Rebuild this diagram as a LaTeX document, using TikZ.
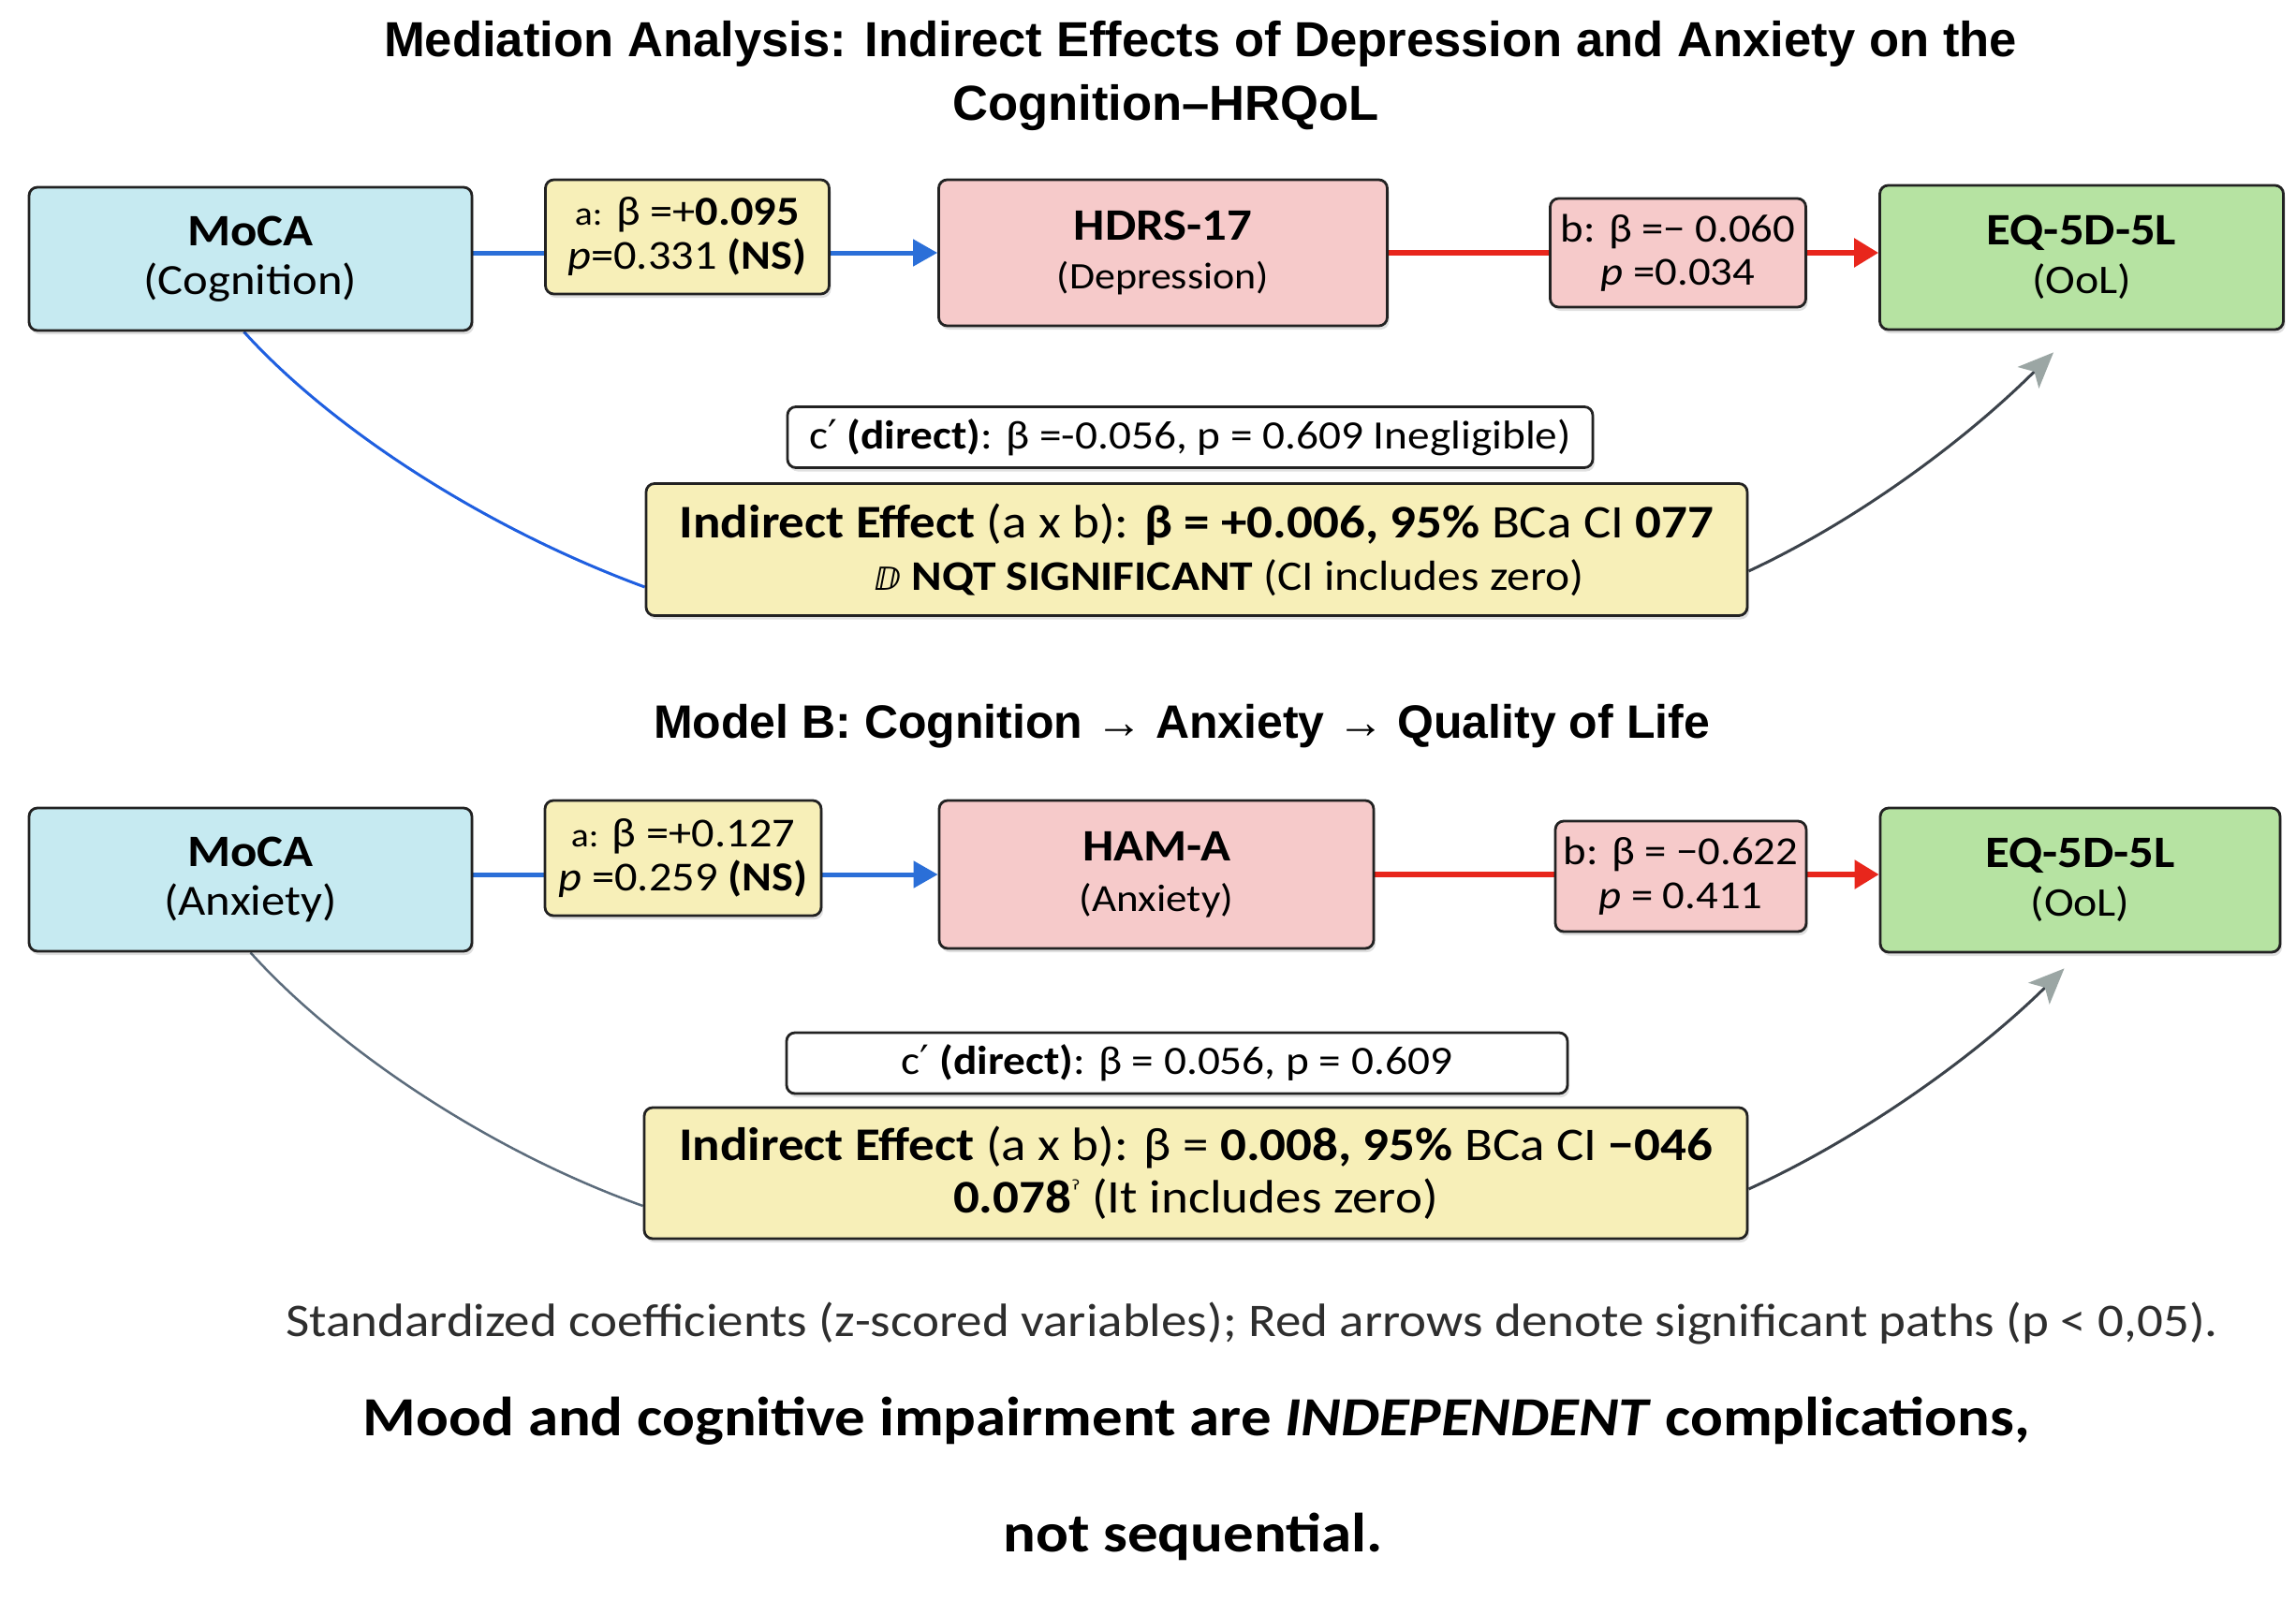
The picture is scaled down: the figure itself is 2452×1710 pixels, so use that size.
\documentclass[tikz,border=0pt]{standalone}
\usepackage{fontspec}
\setmainfont{Carlito}[FakeStretch=1.1]
\newfontfamily\titlefont{Liberation Sans}
\newfontfamily\symfont{DejaVu Sans}
\usetikzlibrary{arrows.meta,shadows,backgrounds,calc}
\definecolor{cyanfill}{HTML}{C6EAF1}
\definecolor{yelfill}{HTML}{F7EFB8}
\definecolor{pinkfill}{HTML}{F6CACA}
\definecolor{greenfill}{HTML}{B6E3A2}
\definecolor{boxline}{HTML}{222222}
\definecolor{bluearrow}{HTML}{2B6FD8}
\definecolor{redarrow}{HTML}{E8261C}
\definecolor{curveblue}{HTML}{1F5FE0}
\definecolor{curvegray}{HTML}{3C434B}
\definecolor{curvegraytwo}{HTML}{5C6C7C}
\definecolor{tipgray}{HTML}{9BA6A4}
\definecolor{foottext}{HTML}{2E2E2E}
\newcommand{\fsz}[2]{\fontsize{#1}{#2}\selectfont}
\newcommand{\primech}{{\symfont ′}}
\tikzset{
  box/.style={draw=boxline, line width=2.8pt, rounded corners=9pt, align=center,
    inner sep=0pt, drop shadow={shadow xshift=2pt, shadow yshift=-4pt, opacity=0.12, fill=black}},
  varbox/.style={box, font=\fsz{46}{52}},
  coefbox/.style={box, font=\fsz{44}{47}},
  cbox/.style={box, fill=white, font=\fsz{43}{46}},
  indbox/.style={box, fill=yelfill, font=\fsz{50}{56}},
  patha/.style={draw=bluearrow, line width=5pt, -{Triangle[length=26pt,width=28pt]}},
  pathb/.style={draw=redarrow, line width=5.5pt, -{Triangle[length=26pt,width=30pt]}},
  curvetoind/.style={line width=3pt},
  curvetoeq/.style={draw=curvegray, line width=3pt, -{Stealth[length=38pt,width=32pt,inset=9pt,color=tipgray]}},
  titletext/.style={font=\titlefont\bfseries\fsz{52.6}{60}, anchor=base},
  foot/.style={anchor=base}
}
\begin{document}
\begin{tikzpicture}[x=1pt,y=-1pt]
\useasboundingbox (0,0) rectangle (2452,1710);

% titles
\node[titletext] (t1) at (1282,60) {Mediation Analysis: Indirect Effects of Depression and Anxiety on the};
\node[titletext] (t2) at (1245,128) {Cognition–HRQoL};

% ---------- Model A ----------
\node[varbox, fill=cyanfill, minimum width=473, minimum height=153] (mocaA) at (267.5,276.5)
  {{\bfseries\fsz{48}{52}MoCA}\\(Cognition)};
\node[coefbox, fill=yelfill, minimum width=303, minimum height=122] (aA) at (734,253)
  {{\fsz{36}{47}a:} β =+\textbf{0.095}\\\textit{p}=0.331 \textbf{(NS)}};
\node[varbox, fill=pinkfill, minimum width=479, minimum height=156, font=\fsz{40}{52}] (hdrs) at (1242,270)
  {{\bfseries\fsz{48}{52}HDRS-17}\\(Depression)};
\node[coefbox, fill=pinkfill, minimum width=273, minimum height=116, font=\fsz{42.5}{46}] (bA) at (1792,270)
  {b: β =− 0.060\\\textit{p} =0.034};
\node[varbox, fill=greenfill, minimum width=431, minimum height=154, font=\fsz{43.5}{52}] (eqA) at (2223,275)
  {{\bfseries\fsz{48}{52}EQ-5D-5L}\\(OoL)};
\node[cbox, minimum width=860, minimum height=65] (cA) at (1271,467)
  {c\primech{} \textbf{(direct)}: β =-0.056, p = 0.609 Inegligible)};
\node[indbox, minimum width=1176, minimum height=141] (indA) at (1278,587)
  {\textbf{Indirect Effect} (a x b): \textbf{β = +0.006, 95\%} BCa CI \textbf{077}\\
   {\fsz{45}{56}\hspace*{70pt}{\symfont\bfseries\fsz{34}{56}ⅅ} \textbf{NQT SIGNIFICANT} (CI includes zero)}};

% ---------- Model B ----------
\node[titletext, font=\titlefont\bfseries\fsz{50}{60}] (tB) at (1262,788) {Model B: Cognition → Anxiety → Quality of Life};

\node[varbox, fill=cyanfill, minimum width=473, minimum height=153] (mocaB) at (267.5,939.5)
  {{\bfseries\fsz{48}{52}MoCA}\\(Anxiety)};
\node[coefbox, fill=yelfill, minimum width=295, minimum height=123] (aB) at (729.5,916.5)
  {{\fsz{36}{47}a:} β =+0.127\\\textit{p} =0.259 \textbf{(NS)}};
\node[varbox, fill=pinkfill, minimum width=464, minimum height=158, font=\fsz{41}{54}] (hama) at (1235,934)
  {{\bfseries\fsz{48}{54}HAM-A}\\(Anxiety)};
\node[coefbox, fill=pinkfill, minimum width=268, minimum height=118, font=\fsz{42.5}{47}] (bB) at (1795,936)
  {b: β = −0.622\\\textit{p} = 0.411};
\node[varbox, fill=greenfill, minimum width=427, minimum height=154, font=\fsz{43.5}{52}] (eqB) at (2221.5,940)
  {{\bfseries\fsz{48}{52}EQ-5D-5L}\\(OoL)};
\node[cbox, minimum width=834, minimum height=65] (cB) at (1257,1135.5)
  {c\primech{} \textbf{(direct)}: β = 0.056, p = 0.609};
\node[indbox, minimum width=1178, minimum height=140] (indB) at (1277,1253)
  {\textbf{Indirect Effect} (a x b): β = \textbf{0.008, 95\%} BCa CI \textbf{−046}\\
   \textbf{0.078}{\symfont\fsz{26}{56}\raisebox{16pt}{ˀ}} (It includes zero)};

% footer
\node[foot, font=\fsz{50}{54}, text=foottext] (fn) at (1337,1427)
  {Standardized coefficients (z-scored variables); Red arrows denote significant paths (p < 0,05).};
\node[foot, font=\bfseries\fsz{59}{62}] (concl1) at (1278,1533)
  {Mood and cognitive impairment are \textit{INDEPENDENT} complications,};
\node[foot, font=\bfseries\fsz{59}{62}] (concl2) at (1274,1657) {not sequential.};

% connectors
\begin{scope}[on background layer]
  \fill[white] (0,0) rectangle (2452,1710);
  \draw[patha] (mocaA.east |- hdrs.west) -- (hdrs.west);
  \draw[pathb] (hdrs.east) -- (eqA.west |- hdrs.east);
  \draw[patha] (mocaB.east |- hama.west) -- (hama.west);
  \draw[pathb] (hama.east) -- (eqB.west |- hama.east);
  \draw[curvetoind, draw=curveblue] ($(mocaA.south)+(-7,0)$) .. controls ($(mocaA.south)+(87,104)$) and ($(indA.west)+(-169,-22)$) .. ($(indA.west)+(0,40)$);
  \draw[curvetoind, draw=curvegraytwo, line width=2.5pt] ($(mocaB.south)+(0,0)$) .. controls ($(mocaB.south)+(90,100)$) and ($(indB.west)+(-168,-25)$) .. ($(indB.west)+(0,35)$);
\end{scope}
\coordinate (tipA) at ($(eqA.south)+(-30,23)$);
\coordinate (tipB) at ($(eqB.south)+(-17,16)$);
\draw[curvetoeq] ($(indA.east)+(0,23)$) .. controls ($(indA.east)+(118,-32)$) and ($(tipA)+(-92,92)$) .. (tipA);
\draw[curvetoeq] ($(indB.east)+(0,17)$) .. controls ($(indB.east)+(121,-38)$) and ($(tipB)+(-93,92)$) .. (tipB);
\end{tikzpicture}
\end{document}
